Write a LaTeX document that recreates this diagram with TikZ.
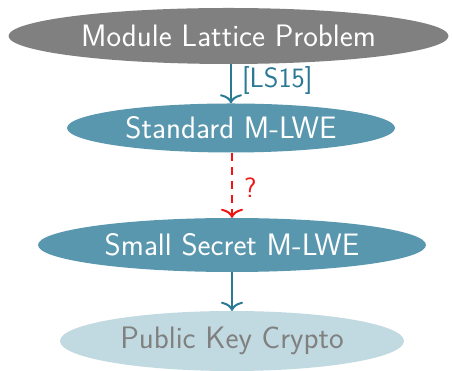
\documentclass[tikz,border=0pt]{standalone}
\usetikzlibrary{arrows.meta,shapes.geometric}
\definecolor{nodegray}{RGB}{128,128,128}
\definecolor{tealfill}{RGB}{88,151,174}
\definecolor{tealline}{RGB}{42,122,150}
\definecolor{lightfill}{RGB}{193,217,224}
\definecolor{redline}{RGB}{240,20,20}
\begin{document}
\begin{tikzpicture}[x=1pt,y=1pt,
  every node/.style={font=\sffamily\fontsize{31}{36}\selectfont},
  blob/.style={ellipse,inner sep=0pt,minimum width=#1},
  edgelabel/.style={right,inner sep=0pt,font=\sffamily\fontsize{28}{32}\selectfont},
  tip/.style={-{To[width=22pt,length=9pt,line width=2pt]}},
  link/.style={line width=2pt,draw=tealline,tip},
  guess/.style={line width=2pt,draw=redline,dash pattern=on 8pt off 6pt,tip}]
  \useasboundingbox (0,0) rectangle (452,371);
  \node[blob=440pt,minimum height=56pt,fill=nodegray,text=white] (mlp) at (228.5,335) {Module Lattice Problem};
  \node[blob=328pt,minimum height=49pt,fill=tealfill,text=white] (std) at (231,243) {Standard M-LWE};
  \node[blob=388pt,minimum height=54pt,fill=tealfill,text=white] (small) at (232,126) {Small Secret M-LWE};
  \node[blob=344pt,minimum height=60pt,fill=lightfill,text=nodegray] (pkc) at (232,30) {Public Key Crypto};
  \draw[link] (std.north |- mlp.south) -- node[edgelabel,text=tealline,xshift=10pt,yshift=3pt] {[LS15]} (std.north);
  \draw[guess] (small.north |- std.south) -- node[edgelabel,text=redline,xshift=11pt,yshift=-2pt] {?} (small.north);
  \draw[link] (small.south) -- (pkc.north);
\end{tikzpicture}
\end{document}
